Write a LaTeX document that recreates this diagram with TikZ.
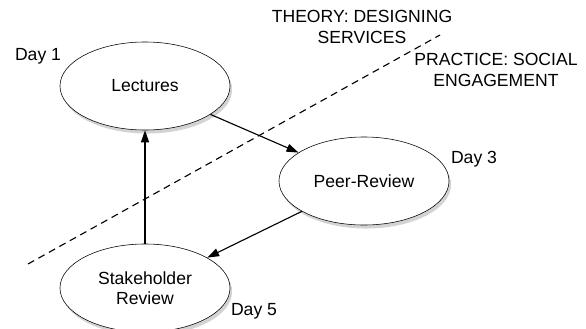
\documentclass[tikz,border=0pt]{standalone}
\usepackage{fontspec}
\setmainfont{Liberation Sans}
\usetikzlibrary{shapes.geometric,shadows,arrows.meta}
\tikzset{
  stage/.style={draw, ellipse, fill=white, minimum width=4.25cm, minimum height=2.2cm,
    align=center, drop shadow={shadow xshift=1.5pt, shadow yshift=-2.5pt, opacity=0.35}},
  flow/.style={-{Triangle[length=3mm, width=2mm]}, thick},
}
\begin{document}
\begin{tikzpicture}[x=0.025cm, y=-0.025cm, font=\fontsize{12.5}{14.5}\selectfont]
\useasboundingbox (0, 0) rectangle (586, 329);

\draw[dashed, thick, dash pattern=on 5pt off 3.5pt] (28, 264) -- (440, 35);

\node[stage] (lect) at (145, 86) {Lectures};
\node[stage] (peer) at (364, 181) {Peer-Review};
\node[stage] (stake) at (145, 288) {Stakeholder\\Review};

\node (d1) at (38, 56) {Day 1};
\node (d3) at (474, 159) {Day 3};
\node (d5) at (254, 311) {Day 5};

\node[align=center] (theory) at (362, 27) {THEORY: DESIGNING\\SERVICES};
\node[align=center] (practice) at (496, 70) {PRACTICE: SOCIAL\\ENGAGEMENT};

\draw[flow] (lect) -- (peer);
\draw[flow] (peer) -- (stake);
\draw[flow] (stake) -- (lect);
\end{tikzpicture}
\end{document}
